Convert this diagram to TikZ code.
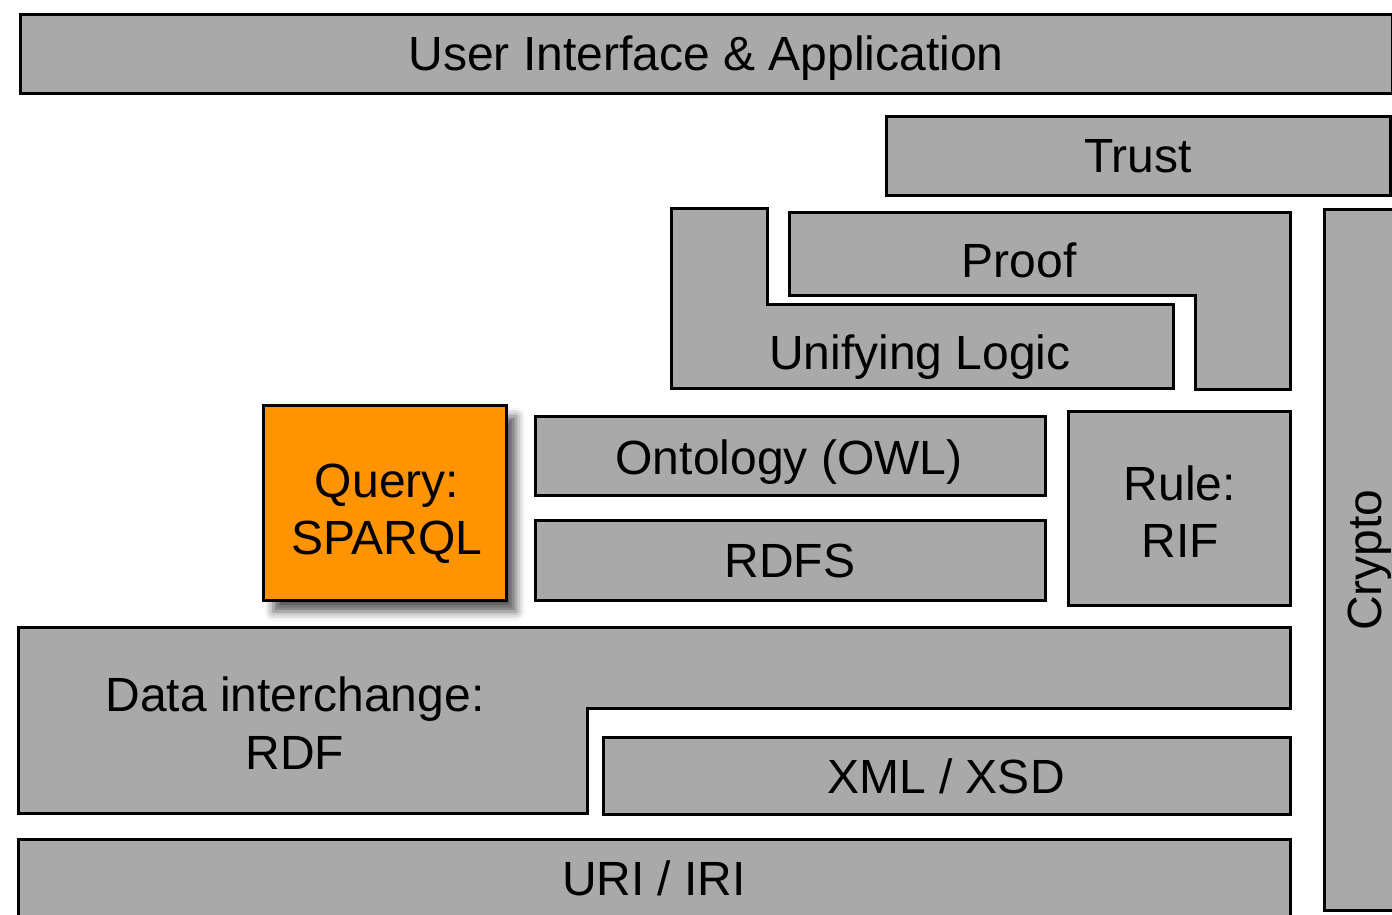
\documentclass[tikz,border=0pt]{standalone}
\usepackage{fontspec}
\setmainfont{Liberation Sans}
\usetikzlibrary{shadows.blur}
\definecolor{layergray}{HTML}{A9A9A9}
\definecolor{queryorange}{HTML}{FF9300}
\begin{document}
\begin{tikzpicture}[x=1pt,y=-1pt,
  layer/.style={draw=black,fill=layergray,line width=3pt,line join=miter},
  lbl/.style={anchor=base,inner sep=0pt,font=\fontsize{48}{57}\selectfont},
]
\useasboundingbox (0,0) rectangle (1392,914);
% User interface
\draw[layer] (20.5,14.5) rectangle (1392,93);
\node[lbl] (ui) at (706,70) {User Interface \& Application};
% Trust
\draw[layer] (886.5,116.5) rectangle (1390,195);
\node[lbl] (trust) at (1138,172) {Trust};
% Crypto
\draw[layer] (1324.5,209.5) rectangle (1396,910.5);
\node[lbl,rotate=90] (crypto) at (1381,560) {Crypto};
% Unifying logic
\draw[layer] (671.5,208.5) -- (767,208.5) -- (767,304.5) -- (1173,304.5) -- (1173,388.5) -- (671.5,388.5) -- cycle;
\node[lbl] (logic) at (920,369) {Unifying Logic};
% Proof
\draw[layer] (789,212.5) -- (1290,212.5) -- (1290,389.5) -- (1195,389.5) -- (1195,295.5) -- (789,295.5) -- cycle;
\node[lbl] (proof) at (1019,277) {Proof};
% Query
\draw[layer,fill=queryorange,blur shadow={shadow xshift=10pt,shadow yshift=-11pt,shadow blur radius=9pt,shadow opacity=65}] (263.5,405.5) rectangle (506,600.5);
\node[lbl] (query) at (387,497) {Query:};
\node[lbl] (sparql) at (387,554) {SPARQL};
% Ontology
\draw[layer] (535.5,416.5) rectangle (1045,495);
\node[lbl] (owl) at (789,474) {Ontology (OWL)};
% RDFS
\draw[layer] (535.5,520.5) rectangle (1045,600.5);
\node[lbl] (rdfs) at (790,577) {RDFS};
% Rule
\draw[layer] (1068.5,411.5) rectangle (1290,605.5);
\node[lbl] (rule) at (1180,500) {Rule:};
\node[lbl] (rif) at (1180,557) {RIF};
% Data interchange
\draw[layer] (18.5,627.5) -- (1290,627.5) -- (1290,708.5) -- (587,708.5) -- (587,813.5) -- (18.5,813.5) -- cycle;
\node[lbl] (data) at (295,711) {Data interchange:};
\node[lbl] (rdf) at (295,769) {RDF};
% XML
\draw[layer] (603.5,737.5) rectangle (1290,814.5);
\node[lbl] (xml) at (946,793) {XML / XSD};
% URI
\draw[layer] (18.5,839.5) rectangle (1290,920);
\node[lbl] (uri) at (654,895) {URI / IRI};
\end{tikzpicture}
\end{document}
